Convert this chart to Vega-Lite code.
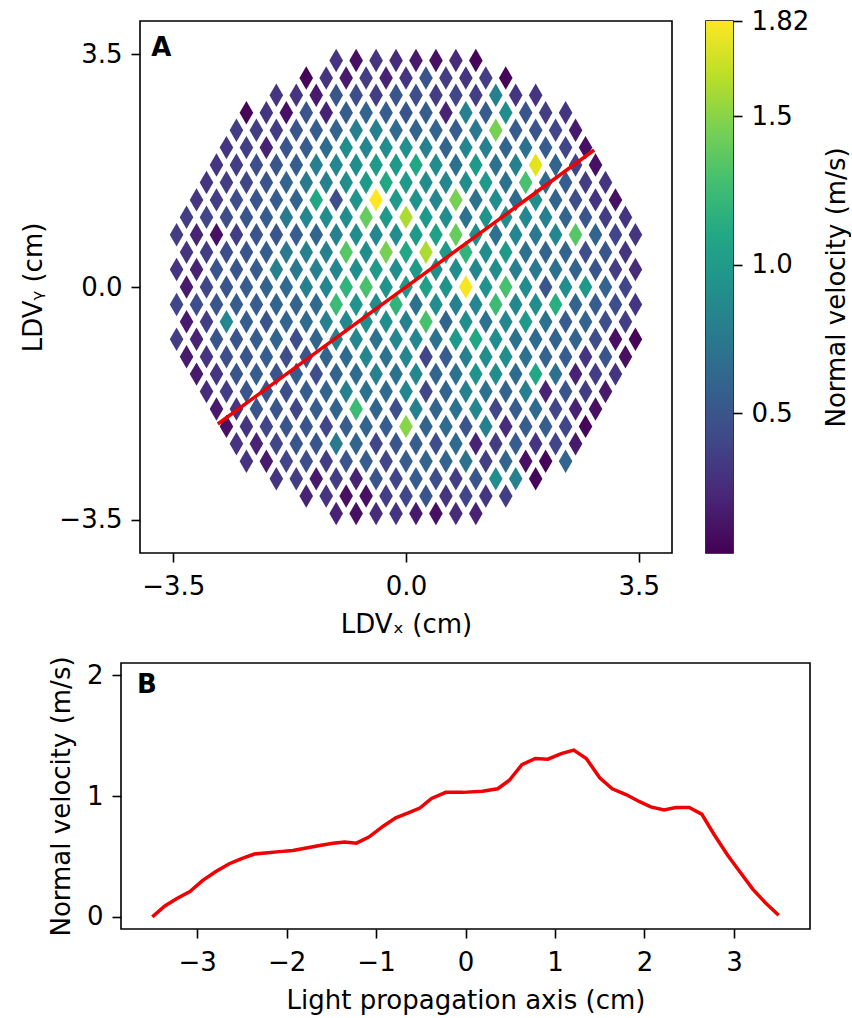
{
"$schema": "https://vega.github.io/schema/vega-lite/v6.json",
"padding": {"left": 20, "top": 7, "right": 0, "bottom": 5},
"spacing": 17,
"config": {
  "font": "DejaVu Sans",
  "view": {"stroke": "black", "strokeWidth": 1.6},
  "axis": {"grid": false, "domain": false, "tickColor": "black", "tickWidth": 1.6, "tickSize": 9, "labelFont": "DejaVu Sans", "labelFontSize": 26, "labelColor": "black", "labelOverlap": false, "titleFont": "DejaVu Sans", "titleFontSize": 26, "titleFontWeight": "normal", "titleColor": "black", "titlePadding": 12},
  "axisX": {"labelPadding": 11},
  "axisY": {"labelPadding": 9}
},
"vconcat": [
 {
  "bounds": "flush",
  "spacing": 0,
  "hconcat": [
  {"width": 19, "height": 1, "view": {"stroke": null}, "data": {"values": [{}]}, "mark": {"type": "point", "opacity": 0}, "encoding": {}},
  {
  "bounds": "flush",
  "spacing": 34,
  "hconcat": [
  {
    "width": 532, "height": 532,
    "encoding": {
      "x": {"field": "x", "type": "quantitative", "scale": {"domain": [-4, 4], "nice": false, "zero": false}, "axis": {"values": [-3.5, 0, 3.5], "format": ".1f", "title": "LDVₓ (cm)"}},
      "y": {"field": "y", "type": "quantitative", "scale": {"domain": [-4, 4], "nice": false, "zero": false}, "axis": {"values": [-3.5, 0, 3.5], "format": ".1f", "title": "LDVᵧ (cm)"}}
    },
    "layer": [
      {
        "data": {"values": [
{"x":-1.05,"y":3.406,"v":0.3},{"x":-0.75,"y":3.406,"v":0.1},{"x":-0.45,"y":3.406,"v":0.3},{"x":-0.15,"y":3.406,"v":0.25},{"x":0.15,"y":3.406,"v":0.15},{"x":0.45,"y":3.406,"v":0.1},{"x":0.75,"y":3.406,"v":0.25},{"x":1.05,"y":3.406,"v":0.05},
{"x":-1.5,"y":3.144,"v":0.05},{"x":-1.2,"y":3.144,"v":0.3},{"x":-0.9,"y":3.144,"v":0.15},{"x":-0.6,"y":3.144,"v":0.35},{"x":-0.3,"y":3.144,"v":0.2},{"x":0,"y":3.144,"v":0.3},{"x":0.3,"y":3.144,"v":0.5},{"x":0.6,"y":3.144,"v":0.35},{"x":0.9,"y":3.144,"v":0.3},{"x":1.2,"y":3.144,"v":0.35},{"x":1.5,"y":3.144,"v":0.05},
{"x":-1.95,"y":2.882,"v":0.3},{"x":-1.65,"y":2.882,"v":0.3},{"x":-1.35,"y":2.882,"v":0.15},{"x":-1.05,"y":2.882,"v":0.5},{"x":-0.75,"y":2.882,"v":0.45},{"x":-0.45,"y":2.882,"v":0.35},{"x":-0.15,"y":2.882,"v":0.5},{"x":0.15,"y":2.882,"v":0.45},{"x":0.45,"y":2.882,"v":0.35},{"x":0.75,"y":2.882,"v":0.4},{"x":1.05,"y":2.882,"v":0.35},{"x":1.35,"y":2.882,"v":0.8},{"x":1.65,"y":2.882,"v":0.3},{"x":1.95,"y":2.882,"v":0.3},
{"x":-2.4,"y":2.62,"v":0.05},{"x":-2.1,"y":2.62,"v":0.3},{"x":-1.8,"y":2.62,"v":0.1},{"x":-1.5,"y":2.62,"v":0.5},{"x":-1.2,"y":2.62,"v":0.2},{"x":-0.9,"y":2.62,"v":0.55},{"x":-0.6,"y":2.62,"v":0.6},{"x":-0.3,"y":2.62,"v":0.55},{"x":0,"y":2.62,"v":0.5},{"x":0.3,"y":2.62,"v":0.55},{"x":0.6,"y":2.62,"v":0.2},{"x":0.9,"y":2.62,"v":0.8},{"x":1.2,"y":2.62,"v":0.55},{"x":1.5,"y":2.62,"v":0.9},{"x":1.8,"y":2.62,"v":0.5},{"x":2.1,"y":2.62,"v":0.35},{"x":2.4,"y":2.62,"v":0.3},
{"x":-2.55,"y":2.358,"v":0.35},{"x":-2.25,"y":2.358,"v":0.35},{"x":-1.95,"y":2.358,"v":0.35},{"x":-1.65,"y":2.358,"v":0.5},{"x":-1.35,"y":2.358,"v":0.55},{"x":-1.05,"y":2.358,"v":0.6},{"x":-0.75,"y":2.358,"v":0.8},{"x":-0.45,"y":2.358,"v":0.8},{"x":-0.15,"y":2.358,"v":0.65},{"x":0.15,"y":2.358,"v":0.6},{"x":0.45,"y":2.358,"v":0.6},{"x":0.75,"y":2.358,"v":0.55},{"x":1.05,"y":2.358,"v":0.75},{"x":1.35,"y":2.358,"v":1.45},{"x":1.65,"y":2.358,"v":0.55},{"x":1.95,"y":2.358,"v":0.5},{"x":2.25,"y":2.358,"v":0.4},{"x":2.55,"y":2.358,"v":0.15},
{"x":-2.7,"y":2.096,"v":0.3},{"x":-2.4,"y":2.096,"v":0.35},{"x":-2.1,"y":2.096,"v":0.2},{"x":-1.8,"y":2.096,"v":0.5},{"x":-1.5,"y":2.096,"v":0.55},{"x":-1.2,"y":2.096,"v":0.65},{"x":-0.9,"y":2.096,"v":0.9},{"x":-0.6,"y":2.096,"v":0.85},{"x":-0.3,"y":2.096,"v":0.9},{"x":0,"y":2.096,"v":0.92},{"x":0.3,"y":2.096,"v":0.8},{"x":0.6,"y":2.096,"v":0.6},{"x":0.9,"y":2.096,"v":0.85},{"x":1.2,"y":2.096,"v":0.8},{"x":1.5,"y":2.096,"v":0.6},{"x":1.8,"y":2.096,"v":0.7},{"x":2.1,"y":2.096,"v":0.55},{"x":2.4,"y":2.096,"v":0.4},{"x":2.7,"y":2.096,"v":0.1},
{"x":-2.85,"y":1.834,"v":0.3},{"x":-2.55,"y":1.834,"v":0.35},{"x":-2.25,"y":1.834,"v":0.45},{"x":-1.95,"y":1.834,"v":0.5},{"x":-1.65,"y":1.834,"v":0.55},{"x":-1.35,"y":1.834,"v":0.8},{"x":-1.05,"y":1.834,"v":0.85},{"x":-0.75,"y":1.834,"v":0.9},{"x":-0.45,"y":1.834,"v":1.0},{"x":-0.15,"y":1.834,"v":1.0},{"x":0.15,"y":1.834,"v":1.1},{"x":0.45,"y":1.834,"v":0.9},{"x":0.75,"y":1.834,"v":0.7},{"x":1.05,"y":1.834,"v":1.0},{"x":1.35,"y":1.834,"v":0.7},{"x":1.65,"y":1.834,"v":0.8},{"x":1.95,"y":1.834,"v":1.75},{"x":2.25,"y":1.834,"v":0.6},{"x":2.55,"y":1.834,"v":0.4},{"x":2.85,"y":1.834,"v":0.1},
{"x":-3,"y":1.572,"v":0.3},{"x":-2.7,"y":1.572,"v":0.35},{"x":-2.4,"y":1.572,"v":0.4},{"x":-2.1,"y":1.572,"v":0.5},{"x":-1.8,"y":1.572,"v":0.6},{"x":-1.5,"y":1.572,"v":0.75},{"x":-1.2,"y":1.572,"v":0.8},{"x":-0.9,"y":1.572,"v":0.9},{"x":-0.6,"y":1.572,"v":1.0},{"x":-0.3,"y":1.572,"v":1.1},{"x":0,"y":1.572,"v":1.0},{"x":0.3,"y":1.572,"v":0.9},{"x":0.6,"y":1.572,"v":0.85},{"x":0.9,"y":1.572,"v":0.9},{"x":1.2,"y":1.572,"v":1.0},{"x":1.5,"y":1.572,"v":0.7},{"x":1.8,"y":1.572,"v":1.3},{"x":2.1,"y":1.572,"v":0.65},{"x":2.4,"y":1.572,"v":0.55},{"x":2.7,"y":1.572,"v":0.35},{"x":3,"y":1.572,"v":0.3},
{"x":-3.15,"y":1.31,"v":0.3},{"x":-2.85,"y":1.31,"v":0.35},{"x":-2.55,"y":1.31,"v":0.45},{"x":-2.25,"y":1.31,"v":0.5},{"x":-1.95,"y":1.31,"v":0.55},{"x":-1.65,"y":1.31,"v":0.6},{"x":-1.35,"y":1.31,"v":1.1},{"x":-1.05,"y":1.31,"v":0.45},{"x":-0.75,"y":1.31,"v":0.95},{"x":-0.45,"y":1.31,"v":1.82},{"x":-0.15,"y":1.31,"v":1.0},{"x":0.15,"y":1.31,"v":0.95},{"x":0.45,"y":1.31,"v":0.85},{"x":0.75,"y":1.31,"v":1.45},{"x":1.05,"y":1.31,"v":0.7},{"x":1.35,"y":1.31,"v":0.9},{"x":1.65,"y":1.31,"v":0.65},{"x":1.95,"y":1.31,"v":0.9},{"x":2.25,"y":1.31,"v":0.6},{"x":2.55,"y":1.31,"v":0.45},{"x":2.85,"y":1.31,"v":0.3},{"x":3.15,"y":1.31,"v":0.1},
{"x":-3.3,"y":1.048,"v":0.35},{"x":-3,"y":1.048,"v":0.4},{"x":-2.7,"y":1.048,"v":0.45},{"x":-2.4,"y":1.048,"v":0.5},{"x":-2.1,"y":1.048,"v":0.55},{"x":-1.8,"y":1.048,"v":0.75},{"x":-1.5,"y":1.048,"v":0.85},{"x":-1.2,"y":1.048,"v":0.9},{"x":-0.9,"y":1.048,"v":0.9},{"x":-0.6,"y":1.048,"v":1.4},{"x":-0.3,"y":1.048,"v":1.0},{"x":0,"y":1.048,"v":1.6},{"x":0.3,"y":1.048,"v":1.0},{"x":0.6,"y":1.048,"v":0.9},{"x":0.9,"y":1.048,"v":0.7},{"x":1.2,"y":1.048,"v":0.95},{"x":1.5,"y":1.048,"v":0.9},{"x":1.8,"y":1.048,"v":0.85},{"x":2.1,"y":1.048,"v":0.8},{"x":2.4,"y":1.048,"v":0.6},{"x":2.7,"y":1.048,"v":0.5},{"x":3,"y":1.048,"v":0.35},{"x":3.3,"y":1.048,"v":0.3},
{"x":-3.45,"y":0.786,"v":0.35},{"x":-3.15,"y":0.786,"v":0.2},{"x":-2.85,"y":0.786,"v":0.1},{"x":-2.55,"y":0.786,"v":0.35},{"x":-2.25,"y":0.786,"v":0.5},{"x":-1.95,"y":0.786,"v":0.5},{"x":-1.65,"y":0.786,"v":0.55},{"x":-1.35,"y":0.786,"v":0.6},{"x":-1.05,"y":0.786,"v":0.8},{"x":-0.75,"y":0.786,"v":0.9},{"x":-0.45,"y":0.786,"v":0.85},{"x":-0.15,"y":0.786,"v":0.9},{"x":0.15,"y":0.786,"v":1.0},{"x":0.45,"y":0.786,"v":1.05},{"x":0.75,"y":0.786,"v":1.4},{"x":1.05,"y":0.786,"v":0.9},{"x":1.35,"y":0.786,"v":0.7},{"x":1.65,"y":0.786,"v":0.85},{"x":1.95,"y":0.786,"v":0.75},{"x":2.25,"y":0.786,"v":0.85},{"x":2.55,"y":0.786,"v":1.35},{"x":2.85,"y":0.786,"v":0.6},{"x":3.15,"y":0.786,"v":0.4},{"x":3.45,"y":0.786,"v":0.3},
{"x":-3.3,"y":0.524,"v":0.3},{"x":-3,"y":0.524,"v":0.35},{"x":-2.7,"y":0.524,"v":0.45},{"x":-2.4,"y":0.524,"v":0.5},{"x":-2.1,"y":0.524,"v":0.55},{"x":-1.8,"y":0.524,"v":0.75},{"x":-1.5,"y":0.524,"v":0.8},{"x":-1.2,"y":0.524,"v":0.8},{"x":-0.9,"y":0.524,"v":1.35},{"x":-0.6,"y":0.524,"v":0.9},{"x":-0.3,"y":0.524,"v":1.45},{"x":0,"y":0.524,"v":1.1},{"x":0.3,"y":0.524,"v":1.6},{"x":0.6,"y":0.524,"v":1.0},{"x":0.9,"y":0.524,"v":1.2},{"x":1.2,"y":0.524,"v":0.9},{"x":1.5,"y":0.524,"v":1.0},{"x":1.8,"y":0.524,"v":0.7},{"x":2.1,"y":0.524,"v":0.6},{"x":2.4,"y":0.524,"v":0.6},{"x":2.7,"y":0.524,"v":0.45},{"x":3,"y":0.524,"v":0.5},{"x":3.3,"y":0.524,"v":0.3},
{"x":-3.45,"y":0.262,"v":0.3},{"x":-3.15,"y":0.262,"v":0.2},{"x":-2.85,"y":0.262,"v":0.5},{"x":-2.55,"y":0.262,"v":0.5},{"x":-2.25,"y":0.262,"v":0.55},{"x":-1.95,"y":0.262,"v":0.8},{"x":-1.65,"y":0.262,"v":0.75},{"x":-1.35,"y":0.262,"v":0.8},{"x":-1.05,"y":0.262,"v":0.85},{"x":-0.75,"y":0.262,"v":0.9},{"x":-0.45,"y":0.262,"v":1.0},{"x":-0.15,"y":0.262,"v":0.9},{"x":0.15,"y":0.262,"v":1.0},{"x":0.45,"y":0.262,"v":0.9},{"x":0.75,"y":0.262,"v":0.9},{"x":1.05,"y":0.262,"v":0.85},{"x":1.35,"y":0.262,"v":0.9},{"x":1.65,"y":0.262,"v":0.8},{"x":1.95,"y":0.262,"v":0.75},{"x":2.25,"y":0.262,"v":0.7},{"x":2.55,"y":0.262,"v":0.6},{"x":2.85,"y":0.262,"v":0.5},{"x":3.15,"y":0.262,"v":0.35},{"x":3.45,"y":0.262,"v":0.25},
{"x":-3.3,"y":0,"v":0.15},{"x":-3,"y":0,"v":0.4},{"x":-2.7,"y":0,"v":0.5},{"x":-2.4,"y":0,"v":0.55},{"x":-2.1,"y":0,"v":0.6},{"x":-1.8,"y":0,"v":0.65},{"x":-1.5,"y":0,"v":0.8},{"x":-1.2,"y":0,"v":0.85},{"x":-0.9,"y":0,"v":1.2},{"x":-0.6,"y":0,"v":1.3},{"x":-0.3,"y":0,"v":0.95},{"x":0,"y":0,"v":1.0},{"x":0.3,"y":0,"v":1.05},{"x":0.6,"y":0,"v":0.95},{"x":0.9,"y":0,"v":1.8},{"x":1.2,"y":0,"v":0.95},{"x":1.5,"y":0,"v":1.3},{"x":1.8,"y":0,"v":0.9},{"x":2.1,"y":0,"v":0.5},{"x":2.4,"y":0,"v":0.9},{"x":2.7,"y":0,"v":1.0},{"x":3,"y":0,"v":0.6},{"x":3.3,"y":0,"v":0.4},
{"x":-3.45,"y":-0.262,"v":0.4},{"x":-3.15,"y":-0.262,"v":0.45},{"x":-2.85,"y":-0.262,"v":0.5},{"x":-2.55,"y":-0.262,"v":0.55},{"x":-2.25,"y":-0.262,"v":0.55},{"x":-1.95,"y":-0.262,"v":0.6},{"x":-1.65,"y":-0.262,"v":0.6},{"x":-1.35,"y":-0.262,"v":0.65},{"x":-1.05,"y":-0.262,"v":1.25},{"x":-0.75,"y":-0.262,"v":0.95},{"x":-0.45,"y":-0.262,"v":0.9},{"x":-0.15,"y":-0.262,"v":1.2},{"x":0.15,"y":-0.262,"v":0.7},{"x":0.45,"y":-0.262,"v":0.9},{"x":0.75,"y":-0.262,"v":0.8},{"x":1.05,"y":-0.262,"v":0.85},{"x":1.35,"y":-0.262,"v":1.25},{"x":1.65,"y":-0.262,"v":0.85},{"x":1.95,"y":-0.262,"v":0.9},{"x":2.25,"y":-0.262,"v":1.15},{"x":2.55,"y":-0.262,"v":0.6},{"x":2.85,"y":-0.262,"v":0.55},{"x":3.15,"y":-0.262,"v":0.45},{"x":3.45,"y":-0.262,"v":0.3},
{"x":-3.3,"y":-0.524,"v":0.15},{"x":-3,"y":-0.524,"v":0.35},{"x":-2.7,"y":-0.524,"v":0.85},{"x":-2.4,"y":-0.524,"v":0.55},{"x":-2.1,"y":-0.524,"v":0.5},{"x":-1.8,"y":-0.524,"v":0.6},{"x":-1.5,"y":-0.524,"v":0.65},{"x":-1.2,"y":-0.524,"v":0.8},{"x":-0.9,"y":-0.524,"v":0.85},{"x":-0.6,"y":-0.524,"v":0.9},{"x":-0.3,"y":-0.524,"v":0.9},{"x":0,"y":-0.524,"v":0.8},{"x":0.3,"y":-0.524,"v":1.3},{"x":0.6,"y":-0.524,"v":0.6},{"x":0.9,"y":-0.524,"v":0.9},{"x":1.2,"y":-0.524,"v":0.7},{"x":1.5,"y":-0.524,"v":0.85},{"x":1.8,"y":-0.524,"v":1.0},{"x":2.1,"y":-0.524,"v":0.7},{"x":2.4,"y":-0.524,"v":0.55},{"x":2.7,"y":-0.524,"v":0.6},{"x":3,"y":-0.524,"v":0.45},{"x":3.3,"y":-0.524,"v":0.35},
{"x":-3.45,"y":-0.786,"v":0.35},{"x":-3.15,"y":-0.786,"v":0.2},{"x":-2.85,"y":-0.786,"v":0.5},{"x":-2.55,"y":-0.786,"v":0.5},{"x":-2.25,"y":-0.786,"v":0.55},{"x":-1.95,"y":-0.786,"v":0.6},{"x":-1.65,"y":-0.786,"v":0.45},{"x":-1.35,"y":-0.786,"v":0.6},{"x":-1.05,"y":-0.786,"v":0.8},{"x":-0.75,"y":-0.786,"v":0.85},{"x":-0.45,"y":-0.786,"v":0.7},{"x":-0.15,"y":-0.786,"v":0.85},{"x":0.15,"y":-0.786,"v":0.85},{"x":0.45,"y":-0.786,"v":0.7},{"x":0.75,"y":-0.786,"v":1.0},{"x":1.05,"y":-0.786,"v":1.1},{"x":1.35,"y":-0.786,"v":0.9},{"x":1.65,"y":-0.786,"v":0.7},{"x":1.95,"y":-0.786,"v":0.65},{"x":2.25,"y":-0.786,"v":0.6},{"x":2.55,"y":-0.786,"v":0.6},{"x":2.85,"y":-0.786,"v":0.45},{"x":3.15,"y":-0.786,"v":0.1},{"x":3.45,"y":-0.786,"v":0.05},
{"x":-3.3,"y":-1.048,"v":0.15},{"x":-3,"y":-1.048,"v":0.3},{"x":-2.7,"y":-1.048,"v":0.45},{"x":-2.4,"y":-1.048,"v":0.5},{"x":-2.1,"y":-1.048,"v":0.55},{"x":-1.8,"y":-1.048,"v":0.45},{"x":-1.5,"y":-1.048,"v":0.5},{"x":-1.2,"y":-1.048,"v":0.6},{"x":-0.9,"y":-1.048,"v":0.65},{"x":-0.6,"y":-1.048,"v":0.85},{"x":-0.3,"y":-1.048,"v":0.7},{"x":0,"y":-1.048,"v":0.85},{"x":0.3,"y":-1.048,"v":0.4},{"x":0.6,"y":-1.048,"v":0.55},{"x":0.9,"y":-1.048,"v":0.8},{"x":1.2,"y":-1.048,"v":0.9},{"x":1.5,"y":-1.048,"v":0.9},{"x":1.8,"y":-1.048,"v":0.7},{"x":2.1,"y":-1.048,"v":0.6},{"x":2.4,"y":-1.048,"v":0.55},{"x":2.7,"y":-1.048,"v":0.3},{"x":3,"y":-1.048,"v":0.5},{"x":3.3,"y":-1.048,"v":0.1},
{"x":-3.15,"y":-1.31,"v":0.15},{"x":-2.85,"y":-1.31,"v":0.3},{"x":-2.55,"y":-1.31,"v":0.5},{"x":-2.25,"y":-1.31,"v":0.55},{"x":-1.95,"y":-1.31,"v":0.5},{"x":-1.65,"y":-1.31,"v":0.55},{"x":-1.35,"y":-1.31,"v":0.45},{"x":-1.05,"y":-1.31,"v":0.6},{"x":-0.75,"y":-1.31,"v":0.65},{"x":-0.45,"y":-1.31,"v":0.8},{"x":-0.15,"y":-1.31,"v":0.7},{"x":0.15,"y":-1.31,"v":0.85},{"x":0.45,"y":-1.31,"v":0.6},{"x":0.75,"y":-1.31,"v":0.7},{"x":1.05,"y":-1.31,"v":0.95},{"x":1.35,"y":-1.31,"v":0.9},{"x":1.65,"y":-1.31,"v":0.65},{"x":1.95,"y":-1.31,"v":1.1},{"x":2.25,"y":-1.31,"v":0.7},{"x":2.55,"y":-1.31,"v":0.2},{"x":2.85,"y":-1.31,"v":0.35},{"x":3.15,"y":-1.31,"v":0.3},
{"x":-3,"y":-1.572,"v":0.25},{"x":-2.7,"y":-1.572,"v":0.35},{"x":-2.4,"y":-1.572,"v":0.5},{"x":-2.1,"y":-1.572,"v":0.5},{"x":-1.8,"y":-1.572,"v":0.45},{"x":-1.5,"y":-1.572,"v":0.55},{"x":-1.2,"y":-1.572,"v":0.6},{"x":-0.9,"y":-1.572,"v":0.8},{"x":-0.6,"y":-1.572,"v":0.7},{"x":-0.3,"y":-1.572,"v":0.65},{"x":0,"y":-1.572,"v":0.85},{"x":0.3,"y":-1.572,"v":0.4},{"x":0.6,"y":-1.572,"v":0.6},{"x":0.9,"y":-1.572,"v":0.8},{"x":1.2,"y":-1.572,"v":0.7},{"x":1.5,"y":-1.572,"v":0.6},{"x":1.8,"y":-1.572,"v":0.8},{"x":2.1,"y":-1.572,"v":0.2},{"x":2.4,"y":-1.572,"v":0.5},{"x":2.7,"y":-1.572,"v":0.35},{"x":3,"y":-1.572,"v":0.15},
{"x":-2.85,"y":-1.834,"v":0.15},{"x":-2.55,"y":-1.834,"v":0.3},{"x":-2.25,"y":-1.834,"v":0.5},{"x":-1.95,"y":-1.834,"v":0.5},{"x":-1.65,"y":-1.834,"v":0.4},{"x":-1.35,"y":-1.834,"v":0.55},{"x":-1.05,"y":-1.834,"v":0.6},{"x":-0.75,"y":-1.834,"v":1.25},{"x":-0.45,"y":-1.834,"v":0.6},{"x":-0.15,"y":-1.834,"v":0.45},{"x":0.15,"y":-1.834,"v":0.8},{"x":0.45,"y":-1.834,"v":0.6},{"x":0.75,"y":-1.834,"v":0.7},{"x":1.05,"y":-1.834,"v":0.85},{"x":1.35,"y":-1.834,"v":0.4},{"x":1.65,"y":-1.834,"v":0.55},{"x":1.95,"y":-1.834,"v":0.65},{"x":2.25,"y":-1.834,"v":0.4},{"x":2.55,"y":-1.834,"v":0.2},{"x":2.85,"y":-1.834,"v":0.1},
{"x":-2.7,"y":-2.096,"v":0.1},{"x":-2.4,"y":-2.096,"v":0.3},{"x":-2.1,"y":-2.096,"v":0.4},{"x":-1.8,"y":-2.096,"v":0.5},{"x":-1.5,"y":-2.096,"v":0.5},{"x":-1.2,"y":-2.096,"v":0.4},{"x":-0.9,"y":-2.096,"v":0.55},{"x":-0.6,"y":-2.096,"v":0.6},{"x":-0.3,"y":-2.096,"v":0.55},{"x":0,"y":-2.096,"v":1.5},{"x":0.3,"y":-2.096,"v":0.6},{"x":0.6,"y":-2.096,"v":0.65},{"x":0.9,"y":-2.096,"v":0.5},{"x":1.2,"y":-2.096,"v":0.8},{"x":1.5,"y":-2.096,"v":0.25},{"x":1.8,"y":-2.096,"v":0.55},{"x":2.1,"y":-2.096,"v":0.55},{"x":2.4,"y":-2.096,"v":0.4},{"x":2.7,"y":-2.096,"v":0.05},
{"x":-2.55,"y":-2.358,"v":0.3},{"x":-2.25,"y":-2.358,"v":0.2},{"x":-1.95,"y":-2.358,"v":0.4},{"x":-1.65,"y":-2.358,"v":0.5},{"x":-1.35,"y":-2.358,"v":0.5},{"x":-1.05,"y":-2.358,"v":0.75},{"x":-0.75,"y":-2.358,"v":0.6},{"x":-0.45,"y":-2.358,"v":0.4},{"x":-0.15,"y":-2.358,"v":0.5},{"x":0.15,"y":-2.358,"v":0.55},{"x":0.45,"y":-2.358,"v":0.45},{"x":0.75,"y":-2.358,"v":0.65},{"x":1.05,"y":-2.358,"v":0.2},{"x":1.35,"y":-2.358,"v":0.35},{"x":1.65,"y":-2.358,"v":0.55},{"x":1.95,"y":-2.358,"v":0.3},{"x":2.25,"y":-2.358,"v":0.4},{"x":2.55,"y":-2.358,"v":0.15},
{"x":-2.4,"y":-2.62,"v":0.3},{"x":-2.1,"y":-2.62,"v":0.15},{"x":-1.8,"y":-2.62,"v":0.4},{"x":-1.5,"y":-2.62,"v":0.45},{"x":-1.2,"y":-2.62,"v":0.35},{"x":-0.9,"y":-2.62,"v":0.5},{"x":-0.6,"y":-2.62,"v":0.55},{"x":-0.3,"y":-2.62,"v":0.4},{"x":0,"y":-2.62,"v":0.55},{"x":0.3,"y":-2.62,"v":0.6},{"x":0.6,"y":-2.62,"v":0.6},{"x":0.9,"y":-2.62,"v":0.7},{"x":1.2,"y":-2.62,"v":0.35},{"x":1.5,"y":-2.62,"v":0.6},{"x":1.8,"y":-2.62,"v":0.1},{"x":2.1,"y":-2.62,"v":0.05},{"x":2.4,"y":-2.62,"v":0.6},
{"x":-1.95,"y":-2.882,"v":0.3},{"x":-1.65,"y":-2.882,"v":0.35},{"x":-1.35,"y":-2.882,"v":0.15},{"x":-1.05,"y":-2.882,"v":0.35},{"x":-0.75,"y":-2.882,"v":0.2},{"x":-0.45,"y":-2.882,"v":0.5},{"x":-0.15,"y":-2.882,"v":0.4},{"x":0.15,"y":-2.882,"v":0.55},{"x":0.45,"y":-2.882,"v":0.45},{"x":0.75,"y":-2.882,"v":0.35},{"x":1.05,"y":-2.882,"v":0.5},{"x":1.35,"y":-2.882,"v":0.9},{"x":1.65,"y":-2.882,"v":0.8},{"x":1.95,"y":-2.882,"v":0.05},
{"x":-1.5,"y":-3.144,"v":0.2},{"x":-1.2,"y":-3.144,"v":0.3},{"x":-0.9,"y":-3.144,"v":0.1},{"x":-0.6,"y":-3.144,"v":0.1},{"x":-0.3,"y":-3.144,"v":0.35},{"x":0,"y":-3.144,"v":0.4},{"x":0.3,"y":-3.144,"v":0.5},{"x":0.6,"y":-3.144,"v":0.3},{"x":0.9,"y":-3.144,"v":0.4},{"x":1.2,"y":-3.144,"v":0.3},{"x":1.5,"y":-3.144,"v":0.35},
{"x":-1.05,"y":-3.406,"v":0.2},{"x":-0.75,"y":-3.406,"v":0.1},{"x":-0.45,"y":-3.406,"v":0.25},{"x":-0.15,"y":-3.406,"v":0.3},{"x":0.15,"y":-3.406,"v":0.15},{"x":0.45,"y":-3.406,"v":0.1},{"x":0.75,"y":-3.406,"v":0.25},{"x":1.05,"y":-3.406,"v":0.2}
        ]},
        "mark": {"type": "point", "shape": "M0,-1L0.58,0L0,1L-0.58,0Z", "filled": true, "size": 550, "opacity": 1, "strokeWidth": 0},
        "encoding": {
          "color": {"field": "v", "type": "quantitative", "scale": {"scheme": "viridis", "domain": [0.03, 1.82]}, "legend": null}
        }
      },
      {
        "data": {"values": [{"x": -2.83, "y": -2.06}, {"x": 2.83, "y": 2.06}]},
        "mark": {"type": "line", "color": "#f00000", "strokeWidth": 3.5},
        "encoding": {}
      },
      {
        "data": {"values": [{"x": -3.83, "y": 3.47, "t": "A"}]},
        "mark": {"type": "text", "align": "left", "baseline": "alphabetic", "fontSize": 26, "fontWeight": "bold", "font": "DejaVu Sans", "color": "black"},
        "encoding": {"text": {"field": "t"}}
      }
    ]
  },
  {
    "width": 27, "height": 532,
    "data": {"values": [{"lo": 0.03, "hi": 1.82}]},
    "mark": {"type": "rect", "fill": {"gradient": "linear", "x1": 0, "y1": 1, "x2": 0, "y2": 0, "stops": [
      {"offset": 0, "color": "#440154"}, {"offset": 0.1, "color": "#482475"}, {"offset": 0.2, "color": "#414487"}, {"offset": 0.3, "color": "#355f8d"}, {"offset": 0.4, "color": "#2a788e"}, {"offset": 0.5, "color": "#21918c"}, {"offset": 0.6, "color": "#22a884"}, {"offset": 0.7, "color": "#44bf70"}, {"offset": 0.8, "color": "#7ad151"}, {"offset": 0.9, "color": "#bddf26"}, {"offset": 1, "color": "#fde725"}]}},
    "encoding": {
      "y": {"field": "lo", "type": "quantitative", "scale": {"domain": [0.03, 1.82], "nice": false, "zero": false},
        "axis": {"orient": "right", "values": [0.5, 1, 1.5, 1.82], "labelExpr": "datum.value == 1.82 ? '1.82' : format(datum.value, '.1f')", "title": "Normal velocity (m/s)", "titleAngle": 270, "titleBaseline": "top", "titlePadding": 15}},
      "y2": {"field": "hi"}
    }
  }
  ]
  }
  ]
 },
 {
    "width": 689, "height": 266,
    "encoding": {
      "x": {"field": "x", "type": "quantitative", "scale": {"domain": [-3.85, 3.85], "nice": false, "zero": false}, "axis": {"values": [-3, -2, -1, 0, 1, 2, 3], "format": "d", "title": "Light propagation axis (cm)"}},
      "y": {"field": "v", "type": "quantitative", "scale": {"domain": [-0.1, 2.1], "nice": false, "zero": false}, "axis": {"values": [0, 1, 2], "format": "d", "title": "Normal velocity (m/s)"}}
    },
    "layer": [
      {
        "data": {"values": [
{"x":-3.5,"v":0.0},{"x":-3.36,"v":0.09},{"x":-3.23,"v":0.15},{"x":-3.08,"v":0.21},{"x":-2.94,"v":0.3},{"x":-2.79,"v":0.375},{"x":-2.64,"v":0.44},{"x":-2.51,"v":0.48},{"x":-2.36,"v":0.52},{"x":-2.21,"v":0.53},{"x":-2.08,"v":0.54},{"x":-1.93,"v":0.55},{"x":-1.78,"v":0.57},{"x":-1.63,"v":0.59},{"x":-1.48,"v":0.61},{"x":-1.35,"v":0.62},{"x":-1.22,"v":0.61},{"x":-1.08,"v":0.66},{"x":-0.92,"v":0.75},{"x":-0.78,"v":0.82},{"x":-0.64,"v":0.86},{"x":-0.51,"v":0.9},{"x":-0.38,"v":0.98},{"x":-0.22,"v":1.03},{"x":-0.03,"v":1.03},{"x":0.19,"v":1.04},{"x":0.36,"v":1.06},{"x":0.49,"v":1.13},{"x":0.63,"v":1.26},{"x":0.78,"v":1.31},{"x":0.92,"v":1.305},{"x":1.07,"v":1.35},{"x":1.21,"v":1.38},{"x":1.35,"v":1.31},{"x":1.5,"v":1.15},{"x":1.64,"v":1.06},{"x":1.8,"v":1.01},{"x":1.94,"v":0.955},{"x":2.07,"v":0.91},{"x":2.22,"v":0.885},{"x":2.35,"v":0.905},{"x":2.5,"v":0.905},{"x":2.64,"v":0.85},{"x":2.78,"v":0.68},{"x":2.93,"v":0.51},{"x":3.07,"v":0.37},{"x":3.21,"v":0.23},{"x":3.36,"v":0.11},{"x":3.5,"v":0.014}
        ]},
        "mark": {"type": "line", "color": "#f00000", "strokeWidth": 3.5},
        "encoding": {}
      },
      {
        "data": {"values": [{"x": -3.67, "v": 1.853, "t": "B"}]},
        "mark": {"type": "text", "align": "left", "baseline": "alphabetic", "fontSize": 26, "fontWeight": "bold", "font": "DejaVu Sans", "color": "black"},
        "encoding": {"text": {"field": "t"}}
      }
    ]
 }
]
}
